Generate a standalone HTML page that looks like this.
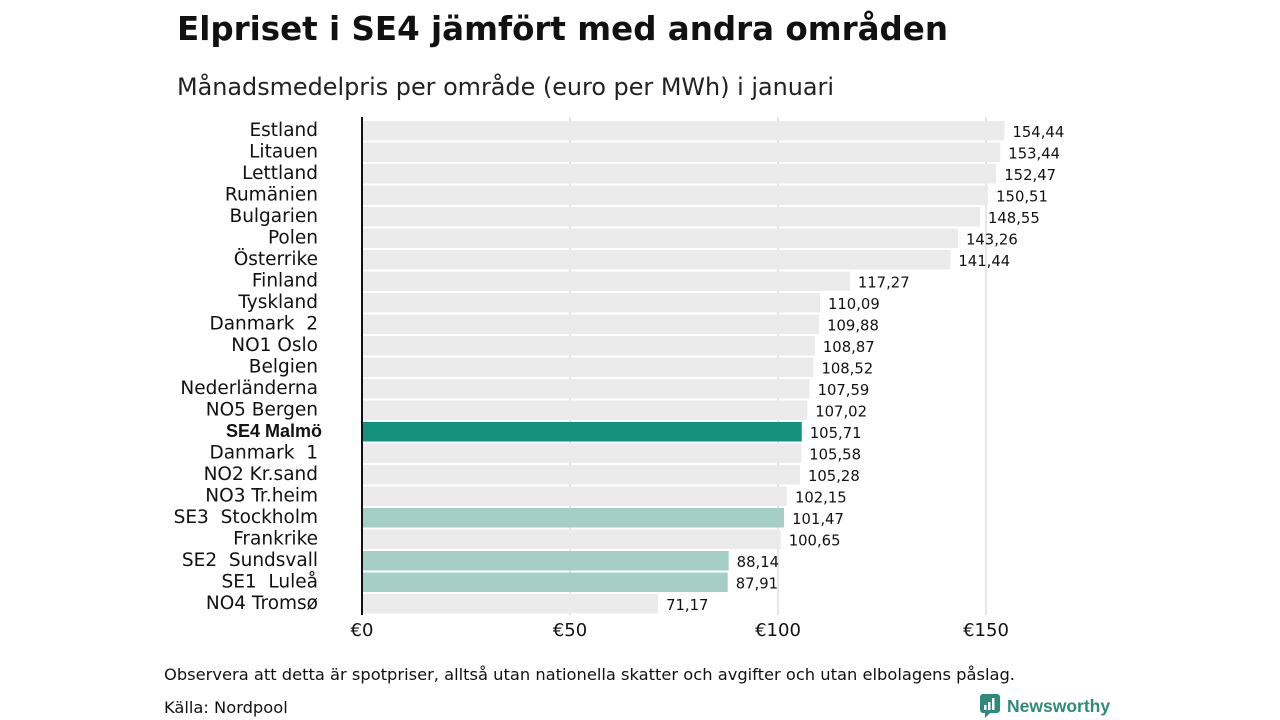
<!DOCTYPE html>
<html><head><meta charset="utf-8"><style>
body{margin:0;width:1280px;height:720px;background:#fff;font-family:"DejaVu Sans","Liberation Sans",sans-serif;overflow:hidden;position:relative}
.t{position:absolute;left:177px;top:10px;font-size:32.5px;font-weight:bold;color:#111}
.s{position:absolute;left:177px;top:73px;font-size:23.9px;color:#222}
.n{position:absolute;left:164px;font-size:16.3px;color:#111}
svg text{white-space:pre}
</style></head><body>
<div class="t">Elpriset i SE4 jämfört med andra områden</div>
<div class="s">Månadsmedelpris per område (euro per MWh) i januari</div>
<svg id="c" width="1280" height="720" style="position:absolute;left:0;top:0"></svg>
<div class="n" style="top:665px">Observera att detta är spotpriser, alltså utan nationella skatter och avgifter och utan elbolagens påslag.</div>
<div class="n" style="top:698px">Källa: Nordpool</div>
<div style="position:absolute;left:979px;top:693px;display:flex;align-items:center">
<svg width="22" height="26"><rect x="1" y="1" width="20" height="19" rx="3" fill="#2e8b7a"/><polygon points="6,20 11,20 6,25" fill="#2e8b7a"/><rect x="5" y="12" width="2.5" height="5" fill="#fff"/><rect x="9" y="9" width="2.5" height="8" fill="#fff"/><rect x="13" y="5" width="2.5" height="12" fill="#fff"/></svg>
<span style="margin-left:6px;font-family:'Liberation Sans',sans-serif;font-size:17.5px;font-weight:bold;color:#2e8b7a">Newsworthy</span></div>
<script>
const categories=["Estland","Litauen","Lettland","Rumänien","Bulgarien","Polen","Österrike","Finland","Tyskland","Danmark  2","NO1 Oslo","Belgien","Nederländerna","NO5 Bergen","SE4 Malmö","Danmark  1","NO2 Kr.sand","NO3 Tr.heim","SE3  Stockholm","Frankrike","SE2  Sundsvall","SE1  Luleå","NO4 Tromsø"];
const values=[154.44,153.44,152.47,150.51,148.55,143.26,141.44,117.27,110.09,109.88,108.87,108.52,107.59,107.02,105.71,105.58,105.28,102.15,101.47,100.65,88.14,87.91,71.17];
const highlight=["","","","","","","","","","","","","","","main","","","","se","","se","se",""];
const ticks=[0,50,100,150];
const tickLabels=["€0","€50","€100","€150"];
const svg=document.getElementById('c');const NS='http://www.w3.org/2000/svg';
const x=v=>362+v*4.16;const y0=121,pitch=21.5,bh=19.5;
function mk(t,a,txt){const e=document.createElementNS(NS,t);for(const k in a)e.setAttribute(k,a[k]);if(txt!=null)e.textContent=txt;svg.appendChild(e);return e;}
ticks.forEach((t,i)=>{
 if(t>0){const g=mk('line',{x1:x(t),x2:x(t),y1:117,y2:615,stroke:'#ddd','stroke-width':1.5});
 
 }
 const l=mk('text',{x:x(t),y:636,'text-anchor':'middle','font-size':18,fill:'#111'},tickLabels[i]);
 
 
});
categories.forEach((c,i)=>{
 const yt=y0+i*pitch;const h=highlight[i];
 const r=mk('rect',{x:x(0),y:yt,width:x(values[i])-x(0),height:bh,fill:h==='main'?'#15927f':h==='se'?'#a5cfc6':'#ebebeb'});
 
 
 const a={x:h==='main'?322:318,y:yt+15,'text-anchor':'end','font-size':18.5,fill:'#111'};
 if(h==='main'){a['font-weight']='bold';a['font-family']='Liberation Sans, sans-serif';a['font-size']=18;}
 const lb=mk('text',a,c);
 
 
 const v=mk('text',{x:x(values[i])+8,y:yt+16,'font-size':14.8,fill:'#111'},values[i].toFixed(2).replace('.',','));
 
 
});
const ax=mk('line',{x1:x(0),x2:x(0),y1:117,y2:615,stroke:'#111','stroke-width':2});


</script>
</body></html>
